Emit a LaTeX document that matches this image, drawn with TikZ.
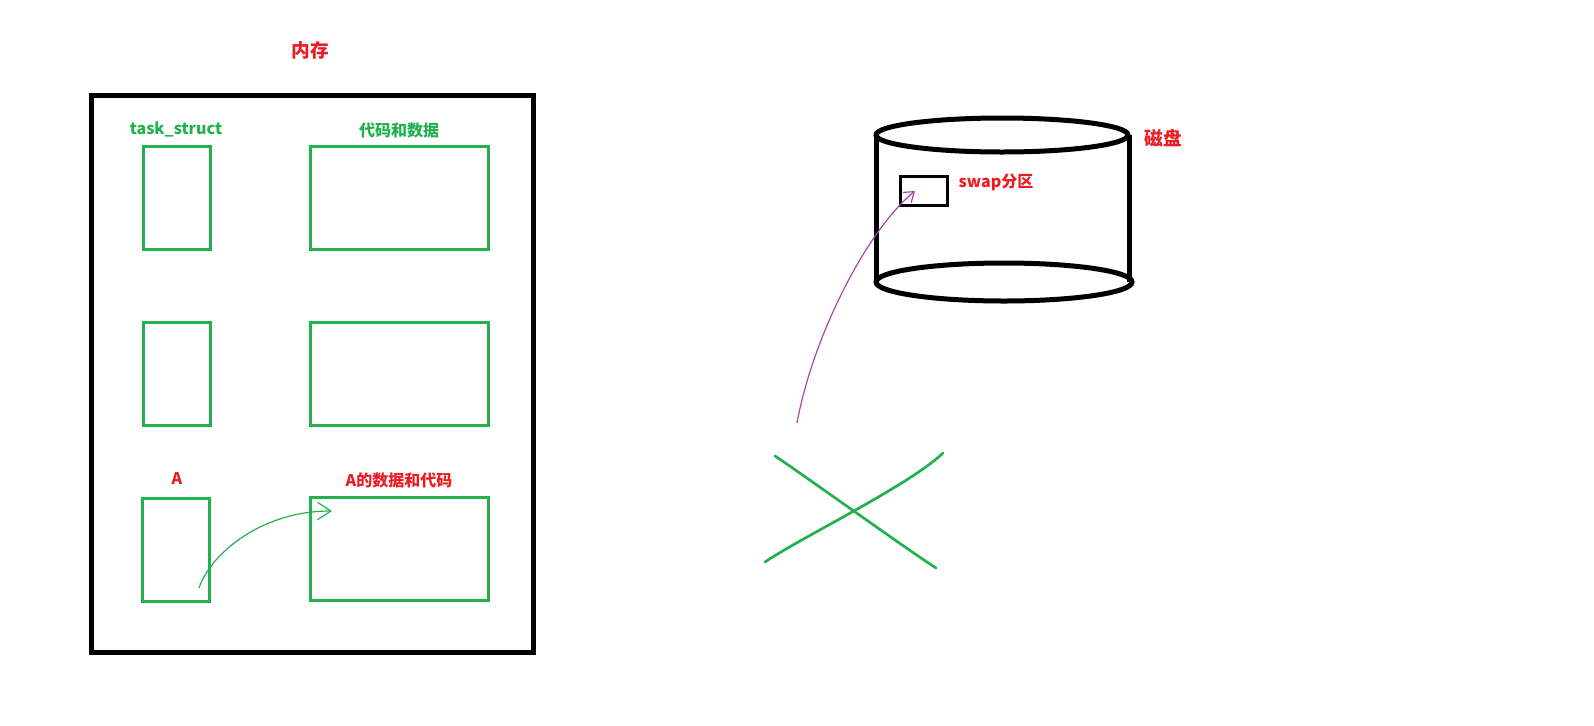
\documentclass[tikz,border=0pt]{standalone}
\usepackage{fontspec}
\setmainfont{Noto Sans CJK SC}
\usetikzlibrary{arrows.meta}
\definecolor{pgreen}{HTML}{22B14C}
\definecolor{pred}{HTML}{ED1C24}
\definecolor{ppurple}{HTML}{A349A4}
\tikzset{
  gbox/.style={draw=pgreen, line width=2.25pt, inner sep=0pt, minimum width=#1},
  smallbox/.style={gbox=50.25pt, minimum height=77.25pt},
  bigbox/.style={gbox=133.5pt, minimum height=77.25pt},
  lbl/.style={font=\bfseries\fontsize{12pt}{12pt}\selectfont, inner sep=0pt},
  glbl/.style={lbl, text=pgreen},
  rlbl/.style={lbl, text=pred},
  rbig/.style={rlbl, font=\bfseries\fontsize{14pt}{14pt}\selectfont},
  thick black/.style={draw=black, line width=3.75pt},
  crossline/.style={pgreen, line width=2pt, line cap=round},
}
\begin{document}
\begin{tikzpicture}[x=0.75pt, y=-0.75pt]
\useasboundingbox (0,0) rectangle (1594,725);
% memory
\node[rbig] (mem) at (310,50) {内存};
\draw[thick black] (91.5,95.5) rectangle (533,652);
\node[smallbox] (ts1) at (176.5,197.5) {};
\node[bigbox]   (cd1) at (399,197.5) {};
\node[smallbox] (ts2) at (176.5,373.5) {};
\node[bigbox]   (cd2) at (399,373.5) {};
\node[smallbox] (tsA) at (175.5,549.5) {};
\node[bigbox]   (cdA) at (399,548.5) {};
\node[glbl] (lts) at (176,129) {task\_struct};
\node[glbl] (lcd) at (399,130) {代码和数据};
\node[rlbl] (lA) at (177,479) {A};
\node[rlbl] (lAd) at (399,480) {A的数据和代码};
\coordinate (gs) at (199,588);
\coordinate (ge) at (332,511);
\draw[pgreen, line width=0.9pt, -{Straight Barb[length=10pt,width=13pt,line width=0.9pt]}]
  (gs) .. controls (210,555) and (260,511) .. (ge);
% disk
\draw[thick black] (876,135) -- (876,282);
\draw[thick black] (1129,135) -- (1129,282);
\draw[thick black] (1004,282) ellipse [x radius=128, y radius=19];
\draw[thick black, fill=white] (1002,135) ellipse [x radius=126, y radius=17];
\node[rbig] (disk) at (1163,138) {磁盘};
\node[draw=black, line width=2.25pt, inner sep=0pt, minimum width=35.25pt, minimum height=21.75pt] (swap) at (924,191) {};
\node[rlbl] (lswap) at (996,182) {swap分区};
\coordinate (ps) at (797,423);
\coordinate (pe) at (915,191);
\draw[ppurple, line width=0.9pt, -{Straight Barb[length=7pt,width=10pt,line width=0.9pt]}]
  (ps) .. controls (812,340) and (865,232) .. (pe);
% cross
\coordinate (x1a) at (775,456);
\coordinate (x1b) at (936,568);
\coordinate (x2a) at (765,562);
\coordinate (x2b) at (943,453);
\draw[crossline] (x1a) .. controls (805,476) and (905,548) .. (x1b);
\draw[crossline] (x2a) .. controls (800,538) and (910,485) .. (x2b);
\end{tikzpicture}
\end{document}
